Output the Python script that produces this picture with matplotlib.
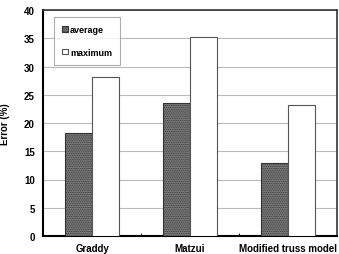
import matplotlib
matplotlib.use("Agg")
import matplotlib.pyplot as plt
import numpy as np

categories = ["Graddy", "Matzui", "Modified truss model"]
average = [18.3, 23.5, 13.0]
maximum = [28.2, 35.2, 23.1]
yticks = [0, 5, 10, 15, 20, 25, 30, 35, 40]

plt.rcParams['font.family'] = ['Liberation Sans', 'DejaVu Sans']
plt.rcParams['hatch.color'] = '#444444'
plt.rcParams['hatch.linewidth'] = 0.5

fig = plt.figure(figsize=(3.39, 2.55), dpi=100)
ax = fig.add_axes([43/339, 1 - 237/255, 294/339, 226/255])

x = np.arange(len(categories))
w = 0.28
ax.bar(x - w/2, average, w, facecolor='#7a7a7a', edgecolor='#333333',
       linewidth=0.8, hatch='.........', label='average', zorder=3)
ax.bar(x + w/2, maximum, w, facecolor='white', edgecolor='#555555',
       linewidth=0.8, label='maximum', zorder=3)

ax.set_xlim(-0.5, len(categories) - 0.5)
ax.set_ylim(0, 40)
ax.set_yticks(yticks)
ax.set_yticklabels([str(t) for t in yticks], fontsize=7, fontweight='bold')
ax.set_xticks(x)
ax.set_xticklabels(categories, fontsize=7, fontweight='bold')
ax.tick_params(axis='x', length=0, pad=5)
ax.tick_params(axis='y', length=0, pad=6)
ax.set_xticks([0.5, 1.5], minor=True)
ax.tick_params(axis='x', which='minor', length=2, direction='in', width=0.6)
ax.yaxis.grid(True, color='#bbbbbb', linewidth=0.8, zorder=0)
ax.set_axisbelow(True)
ax.set_ylabel('Error (%)', fontsize=7, fontweight='bold', labelpad=10)

for side in ['left', 'bottom']:
    ax.spines[side].set_linewidth(1.5)
    ax.spines[side].set_color('black')
for side in ['right', 'top']:
    ax.spines[side].set_linewidth(1.2)
    ax.spines[side].set_color('#333333')

leg = ax.legend(loc='upper left', bbox_to_anchor=(11/294, 1 - 7/226),
                prop={'weight': 'bold', 'size': 6.5},
                frameon=True, fancybox=False, handlelength=0.6, handleheight=0.6,
                handletextpad=0.3, labelspacing=1.5, borderpad=0.9,
                borderaxespad=0)
leg.get_frame().set_edgecolor('#999999')
leg.get_frame().set_linewidth(0.8)
leg.set_zorder(10)

fig.savefig('out.png', dpi=100)
